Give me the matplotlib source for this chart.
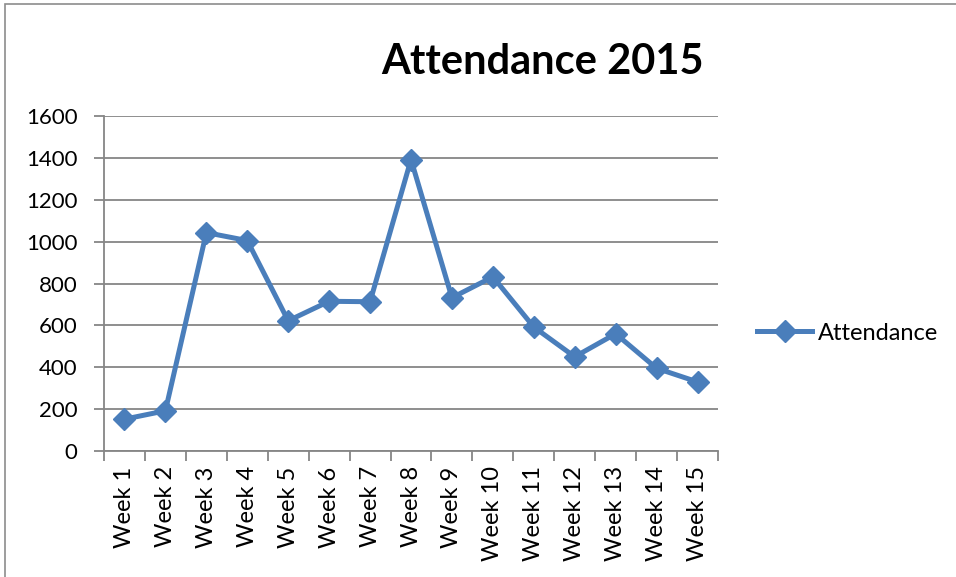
import matplotlib.pyplot as plt
from matplotlib.patches import Rectangle

weeks = [f"Week {i}" for i in range(1, 16)]
attendance = [152, 192, 1043, 1005, 622, 715, 713, 1392, 732, 832, 592, 450, 560, 395, 330]
y_ticks = [0, 200, 400, 600, 800, 1000, 1200, 1400, 1600]

LINE_COLOR = "#4a7ebb"
GRID_COLOR = "#868686"

plt.rcParams["font.family"] = ["Lato", "DejaVu Sans"]

fig = plt.figure(figsize=(9.56, 5.77), dpi=100)
W, H = 956, 577

# chart border (right and bottom run off the image)
fig.patches.append(Rectangle((5 / W, -0.1), 1.2, 1 - 4 / H + 0.1, transform=fig.transFigure,
                             fill=False, edgecolor="#8c8c8c", linewidth=1.2))

left, right, top, bottom = 104, 718, 116, 451
ax = fig.add_axes([left / W, 1 - bottom / H, (right - left) / W, (bottom - top) / H])

x = range(len(weeks))
ax.plot(x, attendance, color=LINE_COLOR, linewidth=3.6, marker="D", markersize=11,
        solid_joinstyle="round", label="Attendance")

ax.set_xlim(-0.5, len(weeks) - 0.5)
ax.set_ylim(0, 1600)
ax.set_yticks(y_ticks)
ax.yaxis.grid(True, color=GRID_COLOR, linewidth=1.3)
ax.set_axisbelow(True)

ax.set_xticks(list(x))
ax.set_xticklabels(weeks, rotation=90, fontsize=17)
ax.set_xticks([i - 0.5 for i in range(len(weeks) + 1)], minor=True)
ax.tick_params(axis="x", which="major", length=0, pad=11)
ax.tick_params(axis="x", which="minor", length=7, width=1.3, color=GRID_COLOR)
ax.tick_params(axis="y", length=7, width=1.3, color=GRID_COLOR, labelsize=16, pad=12)

for side in ["top", "right"]:
    ax.spines[side].set_visible(False)
for side in ["left", "bottom"]:
    ax.spines[side].set_color(GRID_COLOR)
    ax.spines[side].set_linewidth(1.3)

fig.text(542 / W, 1 - 62 / H, "Attendance 2015", ha="center", va="center",
         fontsize=30, fontweight="bold")

fig.legend(loc="center left", bbox_to_anchor=(736 / W, 1 - 333 / H), frameon=False,
           fontsize=17, handlelength=2.33, handletextpad=0.25)

fig.savefig("out.png", dpi=100)
